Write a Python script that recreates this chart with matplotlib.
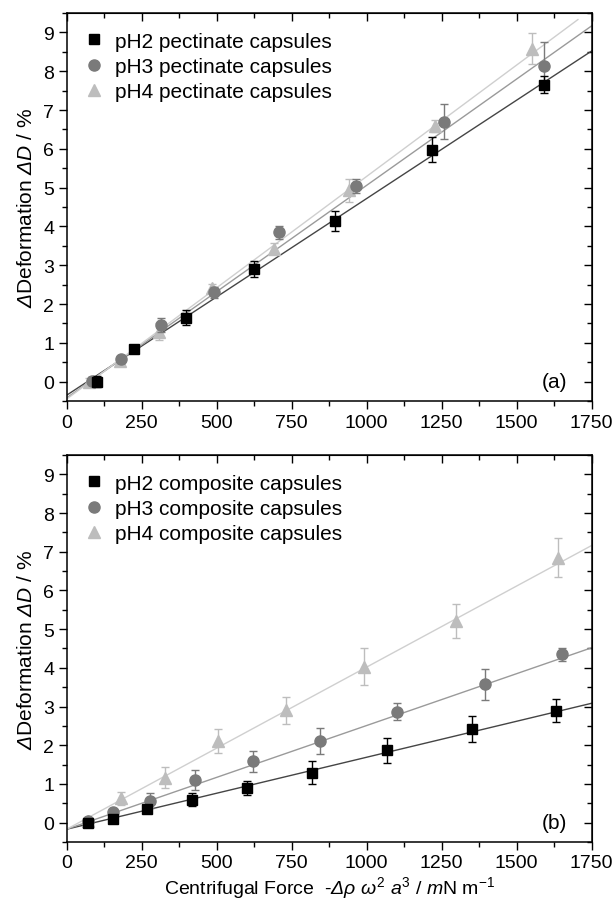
import matplotlib
matplotlib.use('Agg')
import matplotlib.pyplot as plt
from matplotlib.ticker import MultipleLocator
import numpy as np

plt.rcParams['font.family'] = ['Liberation Sans', 'DejaVu Sans']
plt.rcParams['mathtext.fontset'] = 'custom'
plt.rcParams['mathtext.rm'] = 'Liberation Sans'
plt.rcParams['mathtext.it'] = 'Liberation Sans:italic'
# sf is used for italic capital Greek (mathtext forces capital Greek upright in 'it')
plt.rcParams['mathtext.sf'] = 'Liberation Sans:italic'

# ---- (a) pectinate capsules ----
a_ph2_x = [102, 225, 398, 623, 895, 1218, 1591]
a_ph2_y = [0.0, 0.84, 1.65, 2.90, 4.14, 5.98, 7.65]
a_ph2_err = [0.15, 0.07, 0.20, 0.20, 0.26, 0.33, 0.22]

a_ph3_x = [85, 180, 313, 492, 709, 964, 1258, 1591]
a_ph3_y = [0.02, 0.57, 1.46, 2.30, 3.85, 5.04, 6.70, 8.14]
a_ph3_err = [0.10, 0.10, 0.18, 0.15, 0.17, 0.18, 0.45, 0.60]

a_ph4_x = [75, 176, 307, 483, 692, 940, 1228, 1551]
a_ph4_y = [0.0, 0.52, 1.28, 2.42, 3.43, 4.93, 6.58, 8.58]
a_ph4_err = [0.10, 0.12, 0.22, 0.10, 0.15, 0.30, 0.15, 0.40]

# fitted lines: (intercept, slope, x end)
a_fits = [(-0.35, 0.00507, 1750), (-0.42, 0.00548, 1750), (-0.45, 0.00574, 1704)]

# ---- (b) composite capsules ----
b_ph2_x = [72, 153, 268, 418, 601, 819, 1067, 1352, 1632]
b_ph2_y = [0.0, 0.09, 0.34, 0.59, 0.90, 1.29, 1.87, 2.42, 2.89]
b_ph2_err = [0.05, 0.05, 0.08, 0.17, 0.18, 0.30, 0.32, 0.33, 0.30]

b_ph3_x = [70, 155, 276, 428, 621, 844, 1100, 1393, 1651]
b_ph3_y = [0.03, 0.28, 0.57, 1.10, 1.59, 2.11, 2.87, 3.57, 4.35]
b_ph3_err = [0.05, 0.08, 0.20, 0.25, 0.27, 0.33, 0.23, 0.40, 0.17]

b_ph4_x = [70, 181, 326, 505, 730, 991, 1297, 1638]
b_ph4_y = [0.03, 0.63, 1.16, 2.11, 2.90, 4.03, 5.21, 6.85]
b_ph4_err = [0.05, 0.17, 0.27, 0.32, 0.35, 0.47, 0.45, 0.50]

b_fits = [(-0.17, 0.00186, 1750), (-0.17, 0.00268, 1750), (-0.17, 0.00419, 1750)]

labels_a = ['pH2 pectinate capsules', 'pH3 pectinate capsules', 'pH4 pectinate capsules']
labels_b = ['pH2 composite capsules', 'pH3 composite capsules', 'pH4 composite capsules']

marker_colors = ['#000000', '#7a7a7a', '#bdbdbd']
line_colors = ['#454545', '#9a9a9a', '#cfcfcf']
markers = ['s', 'o', '^']
msizes = [7.5, 8, 8]


def draw_panel(ax, series, fits, labels, tag):
    # fit lines first
    for (b0, m, xend), c in zip(fits, line_colors):
        xx = np.array([0, xend])
        ax.plot(xx, b0 + m * xx, color=c, lw=1.0, zorder=1)

    handles = [None] * 3
    # draw pH4 first so pH2 ends up on top
    for i in [2, 1, 0]:
        x, y, e = series[i]
        h = ax.errorbar(x, y, yerr=e, fmt=markers[i], color=marker_colors[i],
                        ms=msizes[i], mec=marker_colors[i], elinewidth=1.0,
                        capsize=3.2, capthick=1.0, zorder=3 + (2 - i))
        handles[i] = h[0]

    ax.legend(handles, labels, loc='upper left', frameon=False, fontsize=15,
              handlelength=0.8, handletextpad=0.6, labelspacing=0.3,
              borderaxespad=0.5, numpoints=1)

    ax.set_xlim(0, 1750)
    ax.set_ylim(-0.5, 9.5)
    ax.xaxis.set_major_locator(MultipleLocator(250))
    ax.xaxis.set_minor_locator(MultipleLocator(125))
    ax.yaxis.set_major_locator(MultipleLocator(1))
    ax.yaxis.set_minor_locator(MultipleLocator(0.5))
    ax.tick_params(which='both', direction='out', top=False, right=False,
                   labelsize=14, width=1.0)
    ax.tick_params(which='major', length=6, pad=3)
    ax.tick_params(which='minor', length=3.5)
    for s in ax.spines.values():
        s.set_linewidth(1.1)

    # inward ticks on top and right sides
    top = ax.secondary_xaxis('top')
    top.xaxis.set_major_locator(MultipleLocator(250))
    top.xaxis.set_minor_locator(MultipleLocator(125))
    top.tick_params(which='both', direction='in', labeltop=False, width=1.0)
    top.tick_params(which='major', length=6)
    top.tick_params(which='minor', length=3.5)
    right = ax.secondary_yaxis('right')
    right.yaxis.set_major_locator(MultipleLocator(1))
    right.yaxis.set_minor_locator(MultipleLocator(0.5))
    right.tick_params(which='both', direction='in', labelright=False, width=1.0)
    right.tick_params(which='major', length=6)
    right.tick_params(which='minor', length=3.5)

    ax.set_ylabel(r'$\mathsf{\Delta}$Deformation $\mathsf{\Delta}\mathit{D}$ / %', fontsize=15, labelpad=5)
    ax.text(1668, 0.0, tag, fontsize=15, ha='right', va='center')


fig = plt.figure(figsize=(6.16, 9.04), dpi=100)
ax1 = fig.add_axes([0.1083, 0.5553, 0.8523, 0.4292])
ax2 = fig.add_axes([0.1083, 0.0675, 0.8523, 0.4281])

draw_panel(ax1, [(a_ph2_x, a_ph2_y, a_ph2_err), (a_ph3_x, a_ph3_y, a_ph3_err),
                 (a_ph4_x, a_ph4_y, a_ph4_err)], a_fits, labels_a, '(a)')
draw_panel(ax2, [(b_ph2_x, b_ph2_y, b_ph2_err), (b_ph3_x, b_ph3_y, b_ph3_err),
                 (b_ph4_x, b_ph4_y, b_ph4_err)], b_fits, labels_b, '(b)')

ax2.set_xlabel(r'Centrifugal Force  -$\mathsf{\Delta}\mathit{\rho}\ \mathit{\omega}^2\ \mathit{a}^3$ / $\mathit{m}$N m$^{-1}$',
               fontsize=14, labelpad=2)

fig.savefig('out.png', dpi=100)
